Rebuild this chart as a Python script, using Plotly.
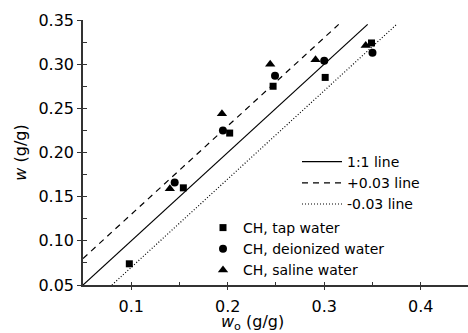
import plotly.graph_objects as go

tap_x = [0.098, 0.154, 0.202, 0.247, 0.301, 0.349]
tap_y = [0.074, 0.160, 0.222, 0.275, 0.285, 0.324]
deion_x = [0.145, 0.195, 0.249, 0.300, 0.350]
deion_y = [0.166, 0.225, 0.287, 0.304, 0.313]
saline_x = [0.140, 0.194, 0.244, 0.291, 0.343]
saline_y = [0.159, 0.244, 0.300, 0.305, 0.321]

line_start = 0.05
line_end_y = 0.345
offset = 0.03

FONT = "DejaVu Sans, Arial, sans-serif"
AX = "#333333"

fig = go.Figure()

fig.add_trace(go.Scatter(x=[line_start, line_end_y], y=[line_start, line_end_y], mode="lines",
                         line=dict(color="black", width=1.2), name="1:1 line", legend="legend"))
fig.add_trace(go.Scatter(x=[line_start, line_end_y - offset], y=[line_start + offset, line_end_y], mode="lines",
                         line=dict(color="black", width=1.2, dash="6px,5px"), name="+0.03 line", legend="legend"))
fig.add_trace(go.Scatter(x=[line_start + offset, line_end_y + offset], y=[line_start, line_end_y], mode="lines",
                         line=dict(color="black", width=1.2, dash="1px,2px"), name="-0.03 line", legend="legend"))

fig.add_trace(go.Scatter(x=tap_x, y=tap_y, mode="markers", name="CH, tap water",
                         marker=dict(symbol="square", size=7, color="black"), legend="legend2"))
fig.add_trace(go.Scatter(x=deion_x, y=deion_y, mode="markers", name="CH, deionized water",
                         marker=dict(symbol="circle", size=8, color="black"), legend="legend2"))
fig.add_trace(go.Scatter(x=saline_x, y=saline_y, mode="markers", name="CH, saline water",
                         marker=dict(symbol="triangle-up", size=9, color="black"), legend="legend2"))

xr = [0.05, 0.449]
yr = [0.05, 0.35]
xmaj = [0.1, 0.2, 0.3, 0.4]
xmin = [0.15, 0.25, 0.35, 0.45]
ymaj = [0.05, 0.10, 0.15, 0.20, 0.25, 0.30, 0.35]
ymin = [0.075, 0.125, 0.175, 0.225, 0.275, 0.325]

fig.add_trace(go.Scatter(x=[0.2], y=[0.2], xaxis="x2", yaxis="y2", mode="markers",
                         marker=dict(opacity=0), showlegend=False, hoverinfo="skip"))

tf = dict(family=FONT, size=16, color="black")

L, R, T, B = 83, 0, 20, 48
PW, PH = 468 - L - R, 333 - T - B


def px(x):
    return (x - L) / PW


def py(y):
    return (333 - B - y) / PH


fig.update_layout(
    width=468, height=333,
    margin=dict(l=L, r=R, t=T, b=B, autoexpand=False),
    paper_bgcolor="white", plot_bgcolor="white",
    font=dict(family=FONT, color="black"),
    xaxis=dict(range=xr, tickmode="array", tickvals=xmaj, ticktext=[f"{v:.1f}" for v in xmaj],
               ticks="outside", ticklen=3, tickwidth=1.2, tickcolor=AX, showline=True,
               linecolor=AX, linewidth=1.5, showgrid=False, zeroline=False, tickfont=tf, automargin=False,
               ticklabelstandoff=3),
    yaxis=dict(range=yr, tickmode="array", tickvals=ymaj, ticktext=[f"{v:.2f}" for v in ymaj],
               ticks="outside", ticklen=4, tickwidth=1.2, tickcolor=AX, showline=True,
               linecolor=AX, linewidth=1.5, showgrid=False, zeroline=False, tickfont=tf, automargin=False,
               title=dict(text="<i>w</i> (g/g)", font=dict(family=FONT, size=16), standoff=8)),
    xaxis2=dict(range=xr, overlaying="x", anchor="y", tickmode="array", tickvals=xmaj + xmin,
                showticklabels=False, ticks="inside", ticklen=3, tickwidth=1.2, tickcolor=AX,
                showline=False, showgrid=False, zeroline=False, automargin=False),
    yaxis2=dict(range=yr, overlaying="y", anchor="x", tickmode="array", tickvals=ymaj + ymin,
                showticklabels=False, ticks="inside", ticklen=4, tickwidth=1.2, tickcolor=AX,
                showline=False, showgrid=False, zeroline=False, automargin=False),
    legend=dict(x=px(297), y=py(146), xanchor="left", yanchor="top",
                bgcolor="rgba(0,0,0,0)", font=dict(family=FONT, size=14), itemwidth=40,
                tracegroupgap=0),
    legend2=dict(x=px(203), y=py(212), xanchor="left", yanchor="top",
                 bgcolor="rgba(0,0,0,0)", font=dict(family=FONT, size=14), itemwidth=30,
                 tracegroupgap=0),
    annotations=[dict(text="<i>w</i><sub>o</sub> (g/g)", x=px(252), y=py(322),
                      xref="paper", yref="paper", xanchor="center", yanchor="middle",
                      showarrow=False, font=dict(family=FONT, size=16))],
    showlegend=True,
)

fig.write_html("out.html")
